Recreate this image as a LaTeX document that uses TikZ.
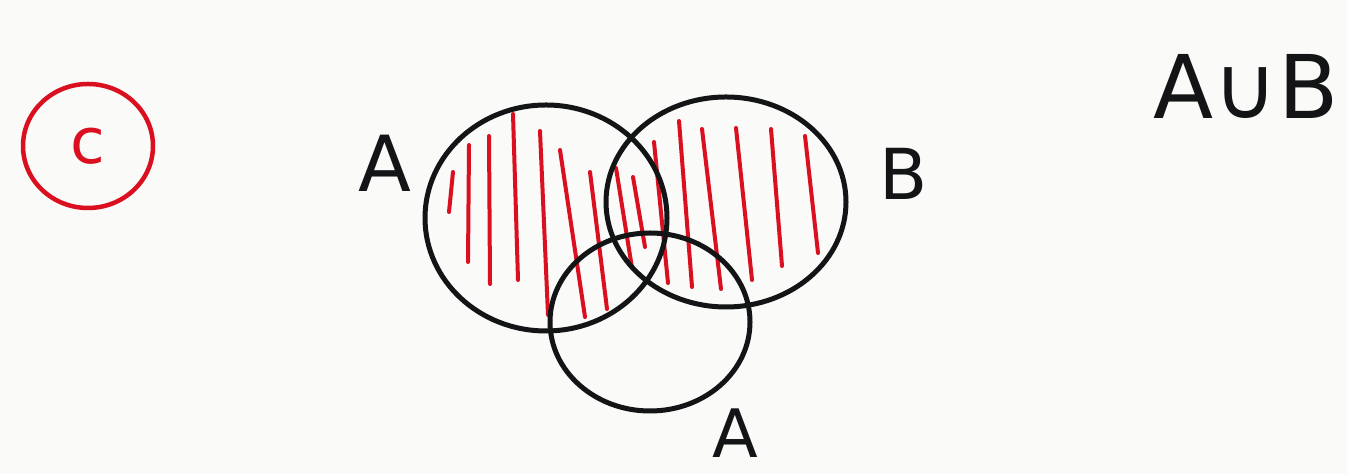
\documentclass[tikz,border=0pt]{standalone}
\usepackage{fontspec}
\setmainfont{DejaVu Sans}
\usepackage{xcolor}
\usepackage{tikz}
\usetikzlibrary{shapes.geometric}

\definecolor{inkred}{RGB}{218,16,32}
\definecolor{inkblack}{RGB}{18,20,22}
\definecolor{paper}{RGB}{250,250,248}

\begin{document}
\begin{tikzpicture}[
    x=0.1mm, y=-0.1mm,
    set/.style={draw=inkblack, ellipse, line width=0.5mm, inner sep=0pt},
    hatch/.style={draw=inkred, line width=0.4mm, line cap=round},
    lbl/.style={text=inkblack, inner sep=0pt},
]

% Paper
\fill[paper] (0,0) rectangle (1347,474);
\clip (0,0) rectangle (1347,474);

% Hatching of A and B
\draw[hatch] (453,172) -- (449,212);
\draw[hatch] (469,145) -- (468,262);
\draw[hatch] (489,136) -- (490,284);
\draw[hatch] (513,114) -- (518,280);
\draw[hatch] (540,131) -- (548,315);
\draw[hatch] (560,150) -- (585,317);
\draw[hatch] (590,172) -- (607,309);
\draw[hatch] (616,168) -- (632,268);
\draw[hatch] (633,177) -- (645,247);
\draw[hatch] (654,142) -- (668,283);
\draw[hatch] (679,121) -- (692,287);
\draw[hatch] (702,129) -- (721,289);
\draw[hatch] (736,128) -- (752,280);
\draw[hatch] (771,129) -- (782,266);
\draw[hatch] (805,136) -- (818,253);

% Sets
\node[set, minimum width=24.2mm, minimum height=22.6mm] (setA) at (546,218) {};
\node[set, minimum width=24.0mm, minimum height=21.0mm] (setB) at (726,202) {};
\node[set, minimum width=20.0mm, minimum height=17.8mm] (setC) at (650,322) {};

% Labels
\node[lbl, font=\fontsize{22}{22}\selectfont] (labA) at (385,163) {A};
\node[lbl, font=\fontsize{20}{20}\selectfont] (labB) at (904,174) {B};
\node[lbl, font=\fontsize{19}{19}\selectfont] (labC) at (735,433) {A};
\node[lbl, font=\fontsize{25}{25}\selectfont] (union) at (1246,86) {A∪B};

% Answer mark
\node[draw=inkred, ellipse, line width=0.45mm, minimum width=13.0mm, minimum height=12.4mm,
      text=inkred, font=\fontsize{18}{18}\selectfont] (mark) at (88,146) {c};

\end{tikzpicture}
\end{document}
